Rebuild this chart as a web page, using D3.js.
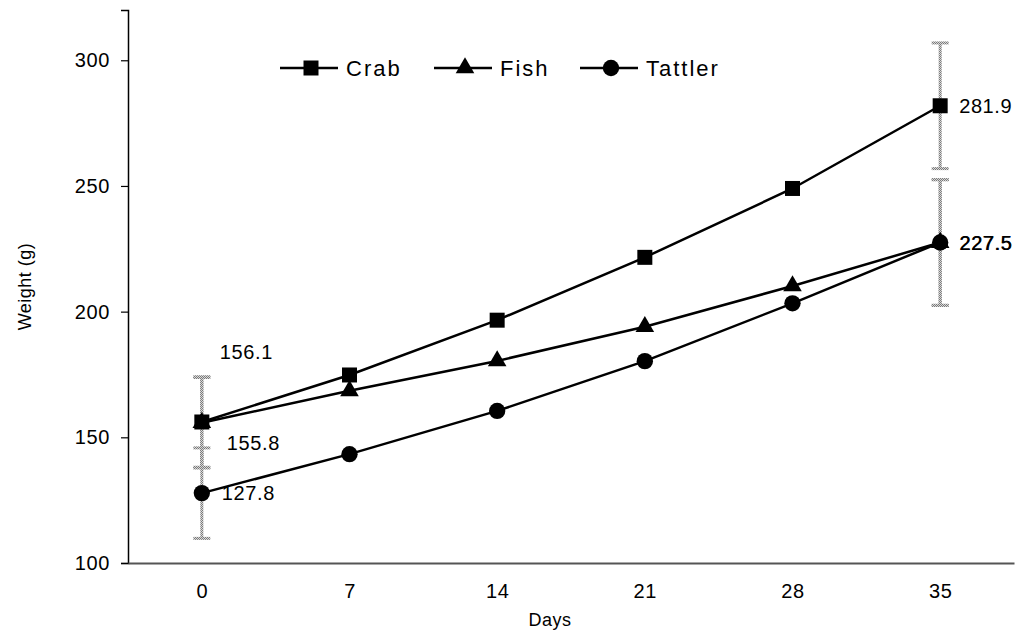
<!DOCTYPE html>
<html><head><meta charset="utf-8">
<script src="https://cdn.jsdelivr.net/npm/d3@7"></script>
<style>body{margin:0;background:#fff}svg{display:block;font-family:"Liberation Sans",Arial,sans-serif}</style>
</head><body><div id="chart"></div>
<script>
const days = [0, 7, 14, 21, 28, 35];
const crab = [156.1, 174.8, 196.6, 221.6, 249.0, 281.9];
const fish = [155.8, 168.5, 180.4, 194.0, 210.2, 227.5];
const tattler = [127.8, 143.3, 160.5, 180.3, 203.3, 227.5];
const errDays = [0, 35];
const crabErr = [18, 25];
const fishErr = [18, 25];
const tattlerErr = [18, 25];
const yTicks = [100, 150, 200, 250, 300];
const seriesNames = ["Crab", "Fish", "Tattler"];
const valueLabels = [
  {day: 0, value: 156.1, text: "156.1"},
  {day: 0, value: 155.8, text: "155.8"},
  {day: 0, value: 127.8, text: "127.8"},
  {day: 35, value: 281.9, text: "281.9"},
  {day: 35, value: 227.5, text: "227.5"}
];

const W = 1018, H = 633;
const svg = d3.select("#chart").append("svg").attr("width", W).attr("height", H);

const defs = svg.append("defs");
const pat = defs.append("pattern").attr("id", "stip").attr("width", 2).attr("height", 2)
  .attr("patternUnits", "userSpaceOnUse");
pat.append("rect").attr("width", 2).attr("height", 2).attr("fill", "#d8d8d8");
pat.append("rect").attr("width", 1).attr("height", 1).attr("fill", "#7a7a7a");
pat.append("rect").attr("x", 1).attr("y", 1).attr("width", 1).attr("height", 1).attr("fill", "#7a7a7a");

const x = d3.scaleLinear().domain([-3.5, 38.5]).range([128, 1014]);
const y = d3.scaleLinear().domain([100, 320]).range([563, 10]);

// axes
const yAxis = svg.append("g").attr("transform", `translate(${x(-3.5)},0)`)
  .call(d3.axisLeft(y).tickValues(yTicks).tickSize(7).tickPadding(11));
yAxis.select(".domain").attr("stroke", "#000").attr("stroke-width", 1.5);
yAxis.selectAll(".tick line").attr("stroke", "#000").attr("stroke-width", 1.2);
yAxis.selectAll(".tick text").attr("font-size", 20).attr("fill", "#000")
  .attr("letter-spacing", 0.6);

const xAxis = svg.append("g").attr("transform", `translate(0,${y(100)})`)
  .call(d3.axisBottom(x).tickValues(days).tickSize(0).tickPadding(21));
xAxis.select(".domain").attr("stroke", "#555").attr("stroke-width", 2);
xAxis.selectAll(".tick text").attr("font-size", 20).attr("fill", "#000")
  .attr("letter-spacing", 0.6);

svg.append("text").attr("x", 550).attr("y", 626).attr("text-anchor", "middle")
  .attr("font-size", 18).attr("letter-spacing", 0.5).text("Days");
svg.append("text").attr("transform", `translate(31,${y(210)}) rotate(-90)`)
  .attr("text-anchor", "middle").attr("font-size", 18).attr("letter-spacing", 0.5).text("Weight (g)");

// error bars
const errSets = [
  {vals: crab, err: crabErr},
  {vals: fish, err: fishErr},
  {vals: tattler, err: tattlerErr}
];
const eb = svg.append("g");
errSets.forEach(s => {
  errDays.forEach((d, i) => {
    const v = s.vals[days.indexOf(d)], e = s.err[i];
    const cx = x(d), yt = y(v + e), yb = y(v - e);
    eb.append("rect").attr("x", cx - 1.5).attr("y", yt).attr("width", 3).attr("height", yb - yt)
      .attr("fill", "url(#stip)");
    [yt, yb].forEach(yy => eb.append("rect").attr("x", cx - 8.5).attr("y", yy - 1.5)
      .attr("width", 17).attr("height", 3).attr("fill", "url(#stip)"));
  });
});

// lines
const line = d3.line().x((d, i) => x(days[i])).y(d => y(d));
const series = [
  {name: "Crab", vals: crab, shape: d3.symbolSquare, size: 225},
  {name: "Fish", vals: fish, shape: d3.symbolTriangle, size: 150},
  {name: "Tattler", vals: tattler, shape: d3.symbolCircle, size: 210}
];
series.forEach(s => {
  svg.append("path").datum(s.vals).attr("d", line).attr("fill", "none")
    .attr("stroke", "#000").attr("stroke-width", 2.5);
});
series.forEach(s => {
  svg.append("g").selectAll("path").data(s.vals).join("path")
    .attr("transform", (d, i) => `translate(${x(days[i])},${y(d)})`)
    .attr("d", d3.symbol().type(s.shape).size(s.size)).attr("fill", "#000");
});

// value labels
const offs = [[18, -70], [25, 20], [20, 0], [19, 0], [19, 0]];
valueLabels.forEach((l, i) => {
  svg.append("text").attr("x", x(l.day) + offs[i][0]).attr("y", y(l.value) + offs[i][1])
    .attr("dy", "0.35em").attr("font-size", 20).attr("letter-spacing", 0.6).text(l.text);
  if (l.day === 35 && l.value === 227.5) {
    svg.append("text").attr("x", x(l.day) + offs[i][0] + 0.6).attr("y", y(l.value) + offs[i][1])
      .attr("dy", "0.35em").attr("font-size", 20).attr("letter-spacing", 0.6).text(l.text);
  }
});

// legend
const legX = [280, 434, 580];
const lg = svg.append("g");
series.forEach((s, i) => {
  const lx = legX[i], ly = 68;
  lg.append("line").attr("x1", lx).attr("x2", lx + 58).attr("y1", ly).attr("y2", ly)
    .attr("stroke", "#000").attr("stroke-width", 2.5);
  lg.append("path").attr("transform", `translate(${lx + 31},${ly})`)
    .attr("d", d3.symbol().type(s.shape).size(s.size)).attr("fill", "#000");
  lg.append("text").attr("x", lx + 66).attr("y", ly).attr("dy", "0.36em")
    .attr("font-size", 22).attr("letter-spacing", 2).text(seriesNames[i]);
});
</script></body></html>
